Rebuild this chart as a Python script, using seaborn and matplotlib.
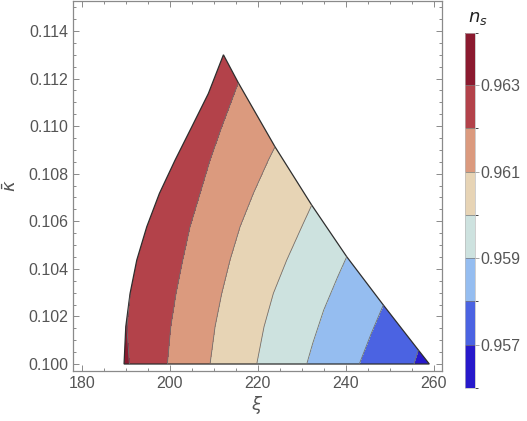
import numpy as np
import seaborn as sns
import matplotlib
matplotlib.use('Agg')
import matplotlib.pyplot as plt
import matplotlib.tri as mtri
from matplotlib.patches import Polygon
from matplotlib.ticker import MultipleLocator, FormatStrFormatter
from matplotlib.colors import ListedColormap, BoundaryNorm

# %% data: (xi, kappa_bar, n_s) samples
# left (curved) edge, bottom-left corner up to the apex
left_xi = [189.61, 190.00, 190.98, 192.50, 194.77, 197.64, 201.20, 205.00, 208.77, 212.20]
left_kappa = [0.1000, 0.10157, 0.10297, 0.10437, 0.10577, 0.10717, 0.10857, 0.10997, 0.11137, 0.11300]
left_ns = [0.96312, 0.96303, 0.96300, 0.96297, 0.96287, 0.96276, 0.96260, 0.96250, 0.96244, 0.96242]

# right edge, apex excluded, down to the bottom-right corner
right_xi = [215.59, 223.93, 232.27, 240.23, 248.55, 256.50, 259.00]
right_kappa = [0.11182, 0.10913, 0.10668, 0.10451, 0.10248, 0.10059, 0.1000]
right_ns = [0.962, 0.961, 0.960, 0.959, 0.958, 0.957, 0.95672]

# points on the contour lines inside the region
c963_xi = [190.82, 190.30]
c963_kappa = [0.1000, 0.10143]
c962_xi = [211.82, 209.16, 206.89, 204.61, 202.95, 201.43, 200.23, 199.45]
c962_kappa = [0.10997, 0.10857, 0.10717, 0.10577, 0.10437, 0.10297, 0.10157, 0.1000]
c961_xi = [222.41, 219.00, 215.98, 213.70, 211.82, 210.30, 209.16]
c961_kappa = [0.10857, 0.10717, 0.10577, 0.10437, 0.10297, 0.10157, 0.1000]
c960_xi = [230.00, 226.59, 223.55, 221.43, 219.77]
c960_kappa = [0.10577, 0.10437, 0.10297, 0.10157, 0.1000]
c959_xi = [238.18, 235.00, 232.50, 231.14]
c959_kappa = [0.10367, 0.10227, 0.10087, 0.1000]
c958_xi = [245.75, 243.09]
c958_kappa = [0.10126, 0.1000]
c957_xi = [255.52]
c957_kappa = [0.1000]

levels = [0.956, 0.957, 0.958, 0.959, 0.960, 0.961, 0.962, 0.963, 0.9642]
band_colors = ['#2719cb', '#4b63e2', '#95bdf0', '#cde2df', '#e7d4b5', '#db9a7e', '#b3424a', '#8b1a2f']

# %% collect samples
xi = list(left_xi) + list(right_xi)
kappa = list(left_kappa) + list(right_kappa)
ns = list(left_ns) + list(right_ns)
for lev, cx, ck in [(0.963, c963_xi, c963_kappa), (0.962, c962_xi, c962_kappa),
                    (0.961, c961_xi, c961_kappa), (0.960, c960_xi, c960_kappa),
                    (0.959, c959_xi, c959_kappa), (0.958, c958_xi, c958_kappa),
                    (0.957, c957_xi, c957_kappa)]:
    xi += cx
    kappa += ck
    ns += [lev] * len(cx)
xi, kappa, ns = np.array(xi), np.array(kappa), np.array(ns)

# triangulate in roughly isotropic (pixel-like) coordinates
tri_scaled = mtri.Triangulation(xi, kappa * 5400)
triang = mtri.Triangulation(xi, kappa, tri_scaled.triangles)

# %% plot
sns.set_style('ticks')
plt.rcParams['font.family'] = ['Liberation Sans', 'DejaVu Sans']
plt.rcParams['mathtext.fontset'] = 'dejavusans'

fig = plt.figure(figsize=(5.27, 4.21), dpi=100)
ax = fig.add_axes([0.1385, 0.119, 0.6995, 0.878])
cmap = ListedColormap(band_colors)
norm = BoundaryNorm(levels, cmap.N)

cs = ax.tricontourf(triang, ns, levels=levels, cmap=cmap, norm=norm)
cl = ax.tricontour(triang, ns, levels=levels[1:-1], colors='#707070', linewidths=0.6)

boundary = np.column_stack([left_xi + right_xi, left_kappa + right_kappa])
clip = Polygon(boundary, closed=True, transform=ax.transData, facecolor='none')
cs.set_clip_path(clip)
cl.set_clip_path(clip)
ax.add_patch(Polygon(boundary, closed=True, facecolor='none', edgecolor='#2e2e2e', linewidth=0.9))

ax.set_xlim(178, 261.8)
ax.set_ylim(0.09971, 0.11525)
ax.xaxis.set_major_locator(MultipleLocator(20))
ax.xaxis.set_minor_locator(MultipleLocator(5))
ax.yaxis.set_major_locator(MultipleLocator(0.002))
ax.yaxis.set_minor_locator(MultipleLocator(0.0005))
ax.yaxis.set_major_formatter(FormatStrFormatter('%.3f'))
ax.tick_params(which='both', direction='in', top=True, right=True, color='#8a8a8a',
               labelcolor='#555555', labelsize=11.5, width=0.7)
ax.tick_params(which='major', length=4.5)
ax.tick_params(which='minor', length=2.5)
for s in ax.spines.values():
    s.set_color('#8a8a8a')
    s.set_linewidth(0.9)
ax.set_xlabel(r'$\xi$', fontsize=13, color='#555555', labelpad=2)
ax.set_ylabel(r'$\bar{\kappa}$', fontsize=13, color='#555555', labelpad=6)

cax = fig.add_axes([0.8824, 0.0784, 0.019, 0.843])
cbar = fig.colorbar(cs, cax=cax, ticks=[0.957, 0.959, 0.961, 0.963],
                    spacing='proportional', drawedges=True)
cbar.outline.set_edgecolor('#bbbbbb')
cbar.outline.set_linewidth(0.5)
cbar.dividers.set_color('#777777')
cbar.dividers.set_linewidth(0.5)
cbar.ax.yaxis.set_major_formatter(FormatStrFormatter('%.3f'))
cbar.ax.tick_params(length=3, width=0.6, color='#999999', labelcolor='#555555', labelsize=11.5, pad=1)
fig.text(0.907, 0.955, r'$n_s$', ha='center', va='center', fontsize=13, color='#222222')

plt.savefig('out.png', dpi=100)
